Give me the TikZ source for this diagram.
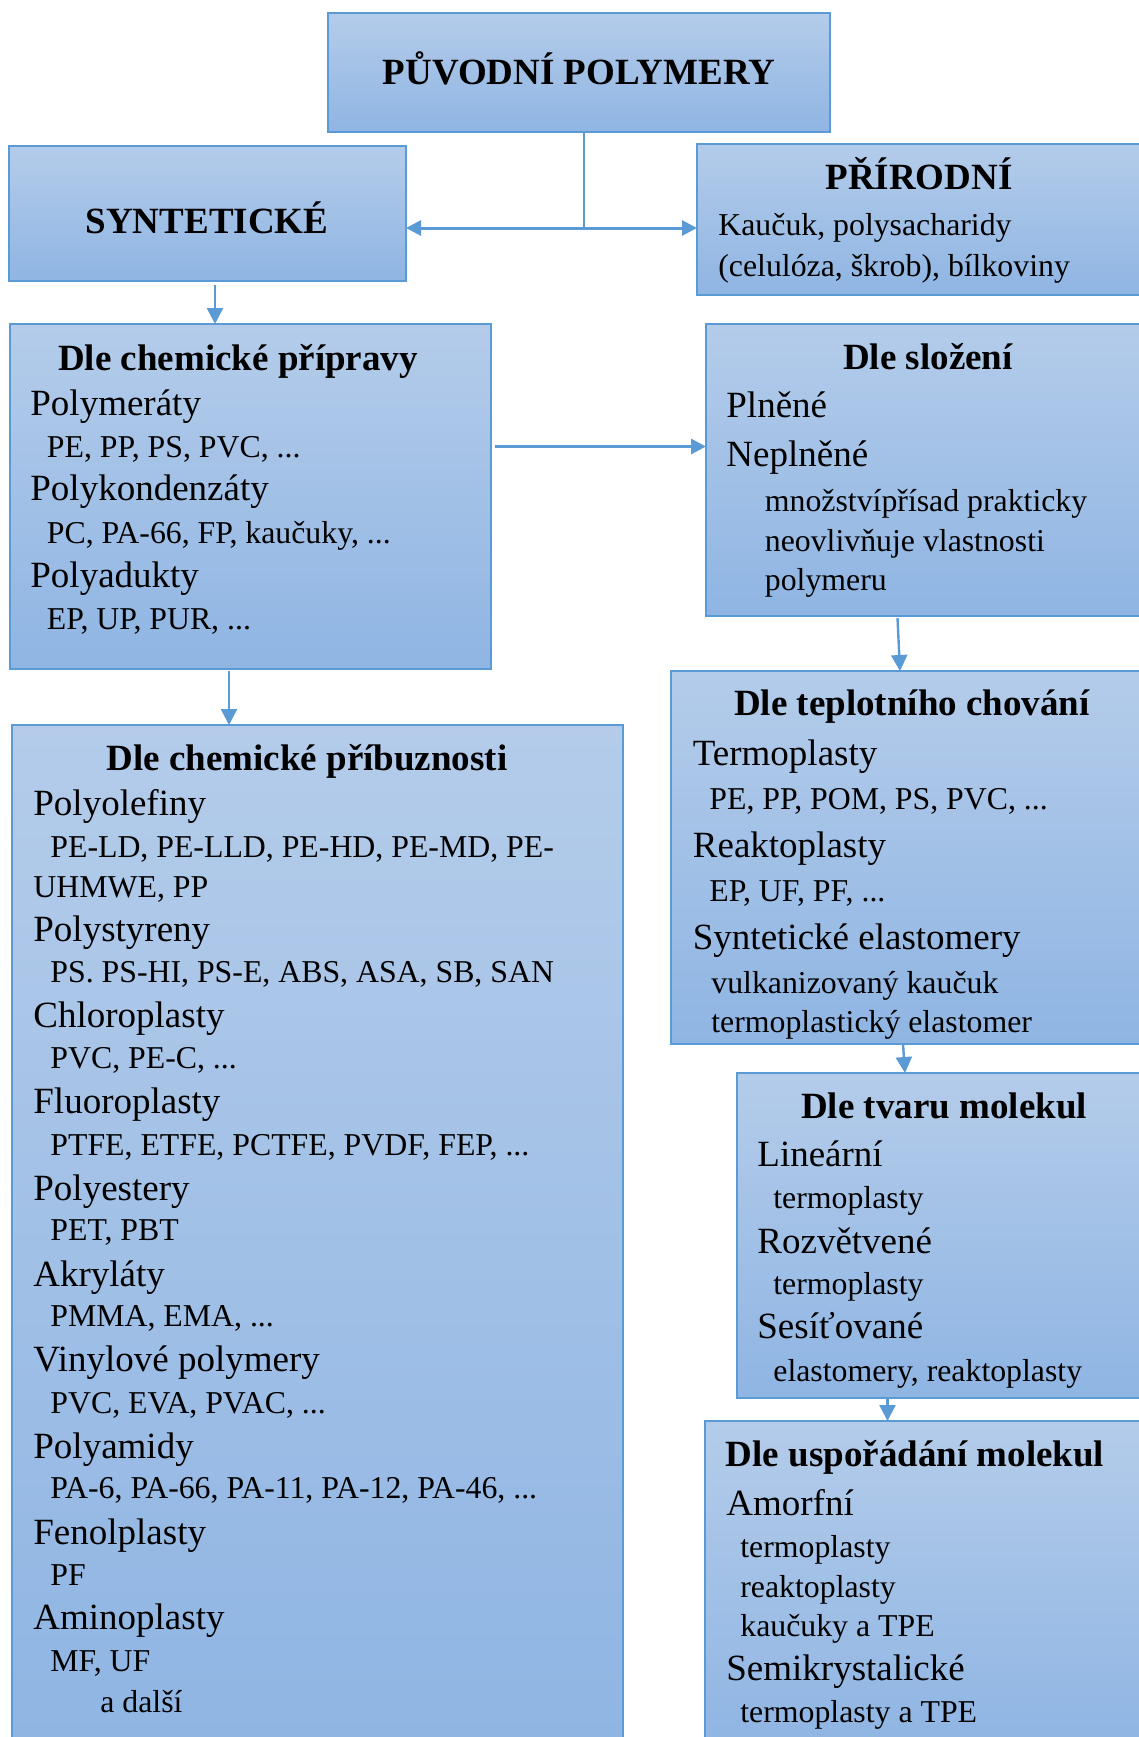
\documentclass[tikz,border=0pt]{standalone}
\usepackage{fontspec}
\setmainfont{Liberation Serif}
\usetikzlibrary{arrows.meta,fit}
\definecolor{bordc}{RGB}{91,155,213}
\definecolor{topc}{RGB}{180,204,234}
\definecolor{botc}{RGB}{143,181,227}
\definecolor{arrc}{RGB}{91,155,213}
\tikzset{
  box/.style={draw=bordc, line width=0.8pt, top color=topc, bottom color=botc, inner sep=0pt, outer sep=0pt, rectangle},
  ttl/.style={font=\fontsize{18.5}{22}\selectfont\bfseries, inner sep=0pt, anchor=base},
  mainl/.style={font=\fontsize{18.5}{22}\selectfont, inner sep=0pt, anchor=base west},
  subl/.style={font=\fontsize{15.9}{19}\selectfont, inner sep=0pt, anchor=base west},
  conn/.style={draw=arrc, line width=1.2pt, -{Triangle[length=8pt,width=8pt]}},
  connthick/.style={draw=arrc, line width=1.5pt, -{Triangle[length=7.5pt,width=7.5pt]}},
  plainl/.style={draw=arrc, line width=1pt}
}
\begin{document}
\begin{tikzpicture}[x=0.5pt,y=-0.5pt]
\useasboundingbox (0,0) rectangle (1139,1737);
\clip (0,0) rectangle (1139,1737);

% boxes
\node[box, fit={(328,13) (830,132)}] (top) {};
\node[box, fit={(9,146) (406,281)}] (synt) {};
\node[box, fit={(697,144) (1150,295)}] (prir) {};
\node[box, fit={(10,324) (491,669)}] (priprava) {};
\node[box, fit={(706,324) (1150,616)}] (slozeni) {};
\node[box, fit={(671,671) (1150,1044)}] (teplot) {};
\node[box, fit={(737,1073) (1150,1398)}] (tvar) {};
\node[box, fit={(705,1421) (1150,1745)}] (usp) {};
\node[box, fit={(12,725) (623,1745)}] (pribuz) {};

% top texts
\node[ttl] (t1) at (579,84) {PŮVODNÍ POLYMERY};
\node[ttl] (t2) at (207,233) {SYNTETICKÉ};
\node[ttl] (t3) at (919,189) {PŘÍRODNÍ};
\node[subl] (p1) at (718,235.5) {Kaučuk, polysacharidy};
\node[subl] (p2) at (718,276.5) {(celulóza, škrob), bílkoviny};

% Dle chemicke pripravy
\node[ttl] (t4) at (238,370) {Dle chemické přípravy};
\node[mainl] (r1) at (30,415) {Polymeráty};
\node[subl] (r2) at (46.5,457) {PE, PP, PS, PVC, ...};
\node[mainl] (r3) at (30,500.6) {Polykondenzáty};
\node[subl] (r4) at (46.5,543.5) {PC, PA-66, FP, kaučuky, ...};
\node[mainl] (r5) at (30,587) {Polyadukty};
\node[subl] (r6) at (46.5,629.5) {EP, UP, PUR, ...};

% Dle slozeni
\node[ttl] (t5) at (928,369) {Dle složení};
\node[mainl] (s1) at (726,417.5) {Plněné};
\node[mainl] (s2) at (726,466) {Neplněné};
\node[subl] (s3) at (764.5,511.5) {množstvípřísad prakticky};
\node[subl] (s4) at (764.5,551.5) {neovlivňuje vlastnosti};
\node[subl] (s5) at (764.5,590) {polymeru};

% Dle teplotniho chovani
\node[ttl] (t6) at (912,715.6) {Dle teplotního chování};
\node[mainl] (h1) at (692.5,765) {Termoplasty};
\node[subl] (h2) at (709,809.5) {PE, PP, POM, PS, PVC, ...};
\node[mainl] (h3) at (692.5,857) {Reaktoplasty};
\node[subl] (h4) at (709,901.5) {EP, UF, PF, ...};
\node[mainl] (h5) at (692.5,949) {Syntetické elastomery};
\node[subl] (h6) at (711,993.5) {vulkanizovaný kaučuk};
\begin{scope}
\clip (671,671) rectangle (1150,1043);
\node[subl] (h7) at (711,1032) {termoplastický elastomer};
\end{scope}

% Dle tvaru molekul
\node[ttl] (t7) at (944,1118) {Dle tvaru molekul};
\node[mainl] (v1) at (757,1166.5) {Lineární};
\node[subl] (v2) at (773,1208.5) {termoplasty};
\node[mainl] (v3) at (757,1253) {Rozvětvené};
\node[subl] (v4) at (773,1294.5) {termoplasty};
\node[mainl] (v5) at (757,1338) {Sesíťované};
\node[subl] (v6) at (773,1381) {elastomery, reaktoplasty};

% Dle usporadani molekul
\node[ttl] (t8) at (915,1466) {Dle uspořádání molekul};
\node[mainl] (u1) at (726,1515.6) {Amorfní};
\node[subl] (u2) at (740,1557.5) {termoplasty};
\node[subl] (u3) at (740,1597) {reaktoplasty};
\node[subl] (u4) at (740,1636) {kaučuky a TPE};
\node[mainl] (u5) at (726,1680.6) {Semikrystalické};
\node[subl] (u6) at (740,1722.5) {termoplasty a TPE};

% Dle chemicke pribuznosti
\node[ttl] (t9) at (307,770) {Dle chemické příbuznosti};
\node[mainl] (b1) at (33,815) {Polyolefiny};
\node[subl] (b2) at (50,857) {PE-LD, PE-LLD, PE-HD, PE-MD, PE-};
\node[subl] (b3) at (33,897) {UHMWE, PP};
\node[mainl] (b4) at (33,941.6) {Polystyreny};
\node[subl] (b5) at (50,982) {PS. PS-HI, PS-E, ABS, ASA, SB, SAN};
\node[mainl] (b6) at (33,1027) {Chloroplasty};
\node[subl] (b7) at (50,1068.5) {PVC, PE-C, ...};
\node[mainl] (b8) at (33,1113) {Fluoroplasty};
\node[subl] (b9) at (50,1155) {PTFE, ETFE, PCTFE, PVDF, FEP, ...};
\node[mainl] (b10) at (33,1200) {Polyestery};
\node[subl] (b11) at (50,1240.5) {PET, PBT};
\node[mainl] (b12) at (33,1286) {Akryláty};
\node[subl] (b13) at (50,1326.5) {PMMA, EMA, ...};
\node[mainl] (b14) at (33,1371.5) {Vinylové polymery};
\node[subl] (b15) at (50,1413) {PVC, EVA, PVAC, ...};
\node[mainl] (b16) at (33,1458) {Polyamidy};
\node[subl] (b17) at (50,1498.5) {PA-6, PA-66, PA-11, PA-12, PA-46, ...};
\node[mainl] (b18) at (33,1544) {Fenolplasty};
\node[subl] (b19) at (50,1585) {PF};
\node[mainl] (b20) at (33,1629.7) {Aminoplasty};
\node[subl] (b21) at (50,1671.5) {MF, UF};
\node[subl] (b22) at (100,1712.5) {a další};

% connectors
\coordinate (j) at (584,228);
\draw[plainl] (top.south -| j) -- (j);
\draw[connthick] (j) -- (synt.east |- j);
\draw[connthick] (j) -- (prir.west |- j);

\coordinate (a1) at (215,0);
\draw[conn] ([yshift=-2pt]synt.south -| a1) -- (priprava.north -| a1);

\coordinate (a2) at (0,446.5);
\draw[connthick] ([xshift=2pt]priprava.east |- a2) -- (slozeni.west |- a2);

\coordinate (a3) at (897.5,0);
\coordinate (a4) at (900,0);
\draw[conn] ([yshift=-1pt]slozeni.south -| a3) -- (teplot.north -| a4);

\coordinate (a5) at (903,0);
\coordinate (a6) at (905,0);
\draw[conn] (teplot.south -| a5) -- (tvar.north -| a6);

\coordinate (a7) at (887.5,0);
\draw[conn] (tvar.south -| a7) -- (usp.north -| a7);

\coordinate (a8) at (229,0);
\draw[conn] ([yshift=-1pt]priprava.south -| a8) -- (pribuz.north -| a8);
\end{tikzpicture}
\end{document}
